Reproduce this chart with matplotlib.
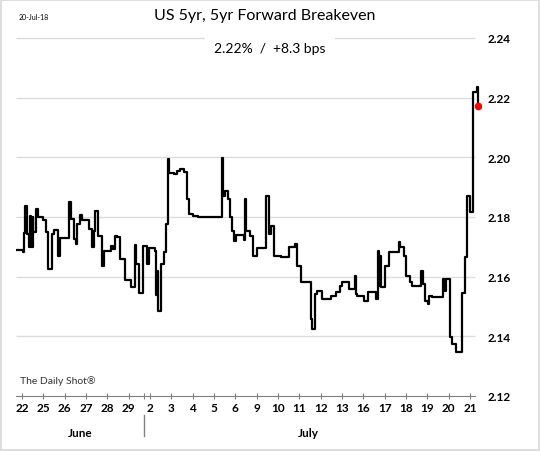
import numpy as np
import matplotlib
matplotlib.use("Agg")
import matplotlib.pyplot as plt
from matplotlib.patches import Rectangle

plt.rcParams['font.family'] = ['Lato', 'DejaVu Sans']

# trading day labels (22-Jun-18 .. 21-Jul-18)
day_labels = ["22", "25", "26", "27", "28", "29", "2", "3", "4", "5", "6",
              "9", "10", "11", "12", "13", "16", "17", "18", "19", "20", "21"]
month_names = ["June", "July"]
month_centers = [2.71, 13.41]
month_break = 5.70

# intraday level, in trading-day units (step series)
pos = [-0.280, 0.047, 0.079, 0.140, 0.234, 0.327, 0.388, 0.435, 0.500, 0.528,
       0.678, 0.771, 1.005, 1.145, 1.229, 1.388, 1.509, 1.706, 1.776, 2.220,
       2.304, 2.430, 2.547, 2.603, 2.743, 2.804, 3.154, 3.294, 3.364, 3.444,
       3.575, 3.762, 3.864, 4.182, 4.252, 4.346, 4.463, 4.579, 4.836, 5.126,
       5.280, 5.350, 5.481, 5.668, 5.874, 5.935, 6.238, 6.276, 6.322, 6.379,
       6.528, 6.650, 6.729, 6.846, 6.916, 7.150, 7.290, 7.430, 7.584, 7.724,
       7.818, 8.005, 8.271, 9.393, 9.439, 9.533, 9.640, 9.752, 9.846, 9.953,
       10.033, 10.397, 10.453, 10.514, 10.701, 10.808, 11.042, 11.435, 11.589, 11.659,
       11.799, 12.150, 12.523, 12.804, 12.911, 13.070, 13.537, 13.612, 13.738, 13.846,
       14.079, 14.472, 14.720, 14.893, 15.014, 15.327, 15.593, 15.640, 15.701, 16.028,
       16.229, 16.621, 16.682, 16.729, 16.776, 16.836, 17.042, 17.229, 17.664, 17.743,
       17.897, 18.023, 18.210, 18.285, 18.724, 18.785, 18.911, 19.033, 19.098, 19.220,
       19.734, 19.813, 19.893, 20.079, 20.154, 20.360, 20.621, 20.748, 20.855, 21.014,
       21.136, 21.168, 21.332, 21.369, 21.402]
level = [2.1690, 2.1683, 2.1746, 2.1837, 2.1743, 2.1699, 2.1803, 2.1699, 2.1800, 2.1750,
         2.1827, 2.1800, 2.1790, 2.1750, 2.1626, 2.1743, 2.1756, 2.1669, 2.1730, 2.1850,
         2.1793, 2.1726, 2.1709, 2.1776, 2.1807, 2.1790, 2.1760, 2.1699, 2.1753, 2.1820,
         2.1736, 2.1636, 2.1686, 2.1703, 2.1693, 2.1736, 2.1733, 2.1659, 2.1589, 2.1565,
         2.1706, 2.1642, 2.1545, 2.1703, 2.1642, 2.1696, 2.1686, 2.1538, 2.1619, 2.1486,
         2.1642, 2.1683, 2.1776, 2.1994, 2.1947, 2.1944, 2.1954, 2.1961, 2.1951, 2.1860,
         2.1810, 2.1803, 2.1800, 2.1998, 2.1870, 2.1887, 2.1860, 2.1800, 2.1753, 2.1719,
         2.1740, 2.1723, 2.1860, 2.1753, 2.1736, 2.1669, 2.1696, 2.1870, 2.1743, 2.1770,
         2.1669, 2.1666, 2.1699, 2.1709, 2.1636, 2.1582, 2.1458, 2.1424, 2.1542, 2.1552,
         2.1525, 2.1535, 2.1548, 2.1569, 2.1582, 2.1559, 2.1602, 2.1542, 2.1535, 2.1518,
         2.1548, 2.1525, 2.1686, 2.1569, 2.1669, 2.1565, 2.1636, 2.1683, 2.1716, 2.1699,
         2.1669, 2.1602, 2.1582, 2.1569, 2.1619, 2.1575, 2.1518, 2.1508, 2.1535, 2.1532,
         2.1592, 2.1552, 2.1592, 2.1398, 2.1374, 2.1347, 2.1545, 2.1666, 2.1870, 2.1818,
         2.2085, 2.2218, 2.2235, 2.2171, 2.2171]

y_ticks = [2.12, 2.14, 2.16, 2.18, 2.20, 2.22, 2.24]

fig = plt.figure(figsize=(5.4, 4.52), dpi=100)
fig.patches.append(Rectangle((0.002, 0.002), 0.996, 0.996, transform=fig.transFigure,
                             fill=False, edgecolor="#d8d8d8", linewidth=1.2))
ax = fig.add_axes([0.0296, 0.1217, 0.8611, 0.8252])
ax.set_xlim(-0.281, 21.52)
ax.set_ylim(2.12, 2.245)

grid_end = 21.25
for yv in y_ticks[1:]:
    ax.hlines(yv, -0.281, grid_end, color="#dcdcdc", linewidth=1.0, zorder=0)

ax.plot(pos, level, drawstyle="steps-post", color="black", linewidth=1.6, zorder=3)
ax.plot(pos[-1], level[-1], "o", color="red", markersize=4.5, zorder=4)

for s in ["top", "left", "right"]:
    ax.spines[s].set_visible(False)
ax.spines["bottom"].set_bounds(-0.281, grid_end)
ax.spines["bottom"].set_color("#808080")

ax.set_xticks(range(len(day_labels)))
ax.set_xticklabels(day_labels, fontsize=8.5, fontweight="bold")
ax.set_xticks([month_break], minor=True)
ax.tick_params(axis="x", which="both", direction="inout", length=5, width=0.8,
               color="#808080", pad=2)

ax.yaxis.tick_right()
ax.set_yticks(y_ticks)
ax.set_yticklabels(["%.2f" % v for v in y_ticks], fontsize=8.5, fontweight="bold")
ax.tick_params(axis="y", length=0, pad=5)

trans = ax.get_xaxis_transform()
ax.plot([month_break, month_break], [-0.051, -0.107], color="#808080", linewidth=1.0,
        transform=trans, clip_on=False)
for name, c in zip(month_names, month_centers):
    ax.text(c, -0.097, name, transform=trans, ha="center", va="center",
            fontsize=8.5, fontweight="bold")

fig.text(0.49, 0.965, "US 5yr, 5yr Forward Breakeven", ha="center", va="center", fontsize=11.5)
ax.text(0.5, 0.892, "2.22%  /  +8.3 bps", transform=fig.transFigure, ha="center", va="center",
        fontsize=10, zorder=5,
        bbox=dict(boxstyle="square,pad=0.7", facecolor="white", edgecolor="none"))
fig.text(0.034, 0.961, "20-Jul-18", ha="left", va="center", fontsize=5)
fig.text(0.037, 0.158, "The Daily Shot\u00ae", ha="left", va="center", fontsize=7.5,
         color="#333333")

fig.savefig("out.png", dpi=100)
